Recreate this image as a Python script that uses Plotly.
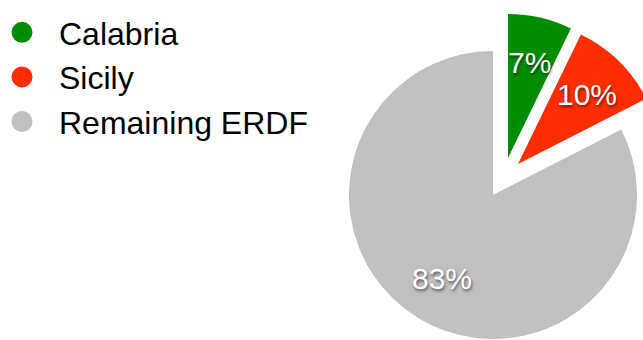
import math
import plotly.graph_objects as go

# ---- data ----
labels = ["Calabria", "Sicily", "Remaining ERDF"]
values = [7.2, 10.3, 82.6]
colors = ["#008C00", "#FF2D00", "#C0C0C0"]

# ---- layout constants ----
W, H = 680, 380          # canvas (window shows top-left 643x340)
R = 144                  # pie radius in px
BASE = (493, 195)        # pie centre in px
EXPLODE = [(15, -37), (25, -31), (0, 0)]  # per-slice offset in px
TEXT_R = 0.68
FONT = "Liberation Sans, Arial, Helvetica, sans-serif"

total = sum(values)
fig = go.Figure()

cum = 0.0
annotations = []
for i, (lab, v) in enumerate(zip(labels, values)):
    cx = BASE[0] + EXPLODE[i][0]
    cy = BASE[1] + EXPLODE[i][1]
    cols = [c if j == i else "rgba(0,0,0,0)" for j, c in enumerate(colors)]
    fig.add_trace(go.Pie(
        labels=labels, values=values, sort=False, direction="clockwise",
        rotation=0, marker=dict(colors=cols, line=dict(width=0)),
        textinfo="none", hoverinfo="skip", showlegend=False,
        domain=dict(x=[(cx - R) / W, (cx + R) / W],
                    y=[1 - (cy + R) / H, 1 - (cy - R) / H]),
    ))
    theta = 2 * math.pi * (cum + v / 2) / total
    tx = cx + TEXT_R * R * math.sin(theta)
    ty = cy - TEXT_R * R * math.cos(theta)
    annotations.append(dict(
        x=tx / W, y=1 - ty / H, xref="paper", yref="paper",
        text=f"{round(100 * v / total)}%", showarrow=False,
        xanchor="center", yanchor="middle",
        font=dict(family=FONT, size=30, color="white",
                  shadow="1px 2px 3px rgba(0,0,0,0.55)"),
    ))
    cum += v

# legend entries (circle markers)
for lab, c in zip(labels, colors):
    fig.add_trace(go.Scatter(
        x=[None], y=[None], mode="markers", name=lab, legendgroup=lab,
        marker=dict(symbol="circle", size=16, color=c, line=dict(width=5, color=c)),
    ))

fig.update_layout(
    width=W, height=H, margin=dict(l=0, r=0, t=0, b=0, autoexpand=False),
    paper_bgcolor="white", plot_bgcolor="white",
    xaxis=dict(visible=False), yaxis=dict(visible=False),
    annotations=annotations,
    showlegend=True,
    legend=dict(x=-15 / W, y=1 - 5 / H, xanchor="left", yanchor="top",
                itemwidth=64,
                font=dict(family=FONT, size=32, color="black"),
                traceorder="grouped", tracegroupgap=0,
                bgcolor="rgba(0,0,0,0)"),
)

fig.write_html(
    "out.html",
    config={"displayModeBar": False},
    post_script="document.body.style.margin='0';document.body.style.overflow='hidden';"
                "document.documentElement.style.overflow='hidden';",
)
